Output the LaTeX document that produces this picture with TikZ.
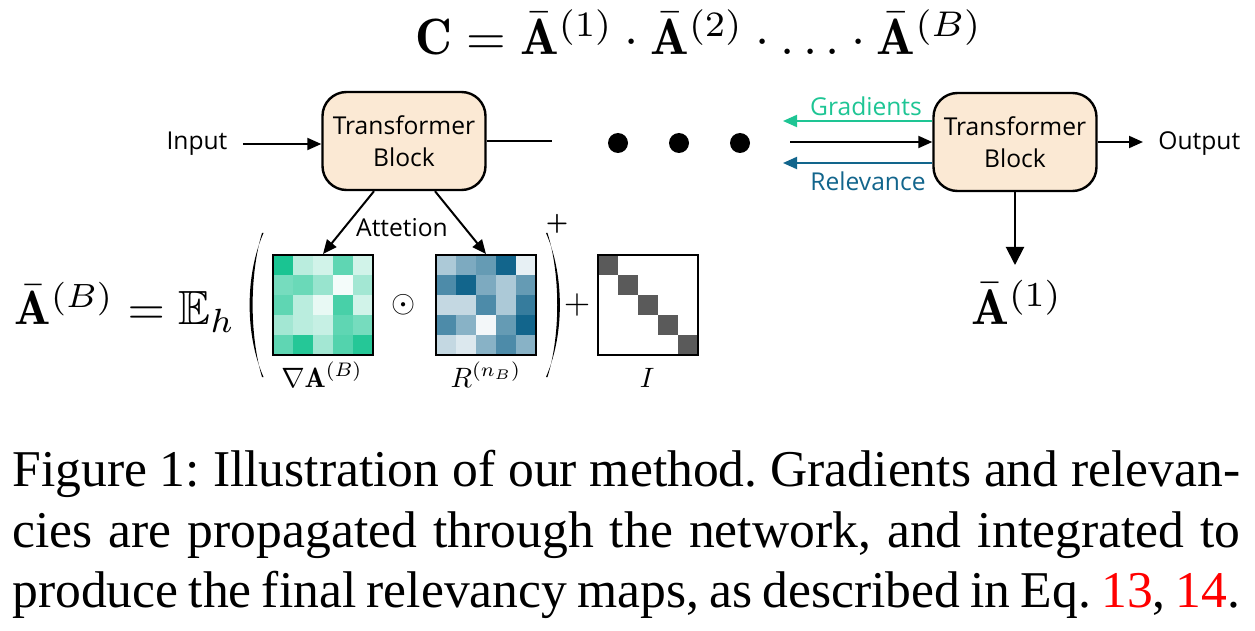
\documentclass[tikz,border=0pt]{standalone}
\usepackage{amsmath,amssymb}
\usepackage{fontspec}
\setsansfont{Open Sans}
\newfontfamily\capfont{Liberation Serif}
\usetikzlibrary{arrows.meta}
\definecolor{peach}{RGB}{251,233,212}
\definecolor{gcol}{RGB}{30,197,148}
\definecolor{bcol}{RGB}{18,101,140}
\definecolor{gmat}{RGB}{26,196,146}
\definecolor{bmat}{RGB}{18,101,140}
\definecolor{dgray}{RGB}{90,90,90}
\tikzset{
  lbl/.style={font=\sffamily\fontsize{12.3}{16}\selectfont},
  block/.style={lbl, draw, line width=1.2pt, rounded corners=12pt, fill=peach,
    minimum width=81.5pt, minimum height=49pt, align=center, inner sep=0pt},
  arr/.style={line width=1pt, -{Triangle[length=7pt,width=6pt]}},
  bigarr/.style={line width=1pt, -{Triangle[length=9pt,width=9pt]}},
  matbox/.style={draw, line width=1pt, minimum size=50pt, inner sep=0pt},
  dotc/.style={circle, fill=black, minimum size=10pt, inner sep=0pt},
  capline/.style={anchor=base west, inner sep=0pt, font=\capfont\fontsize{25.8}{30}\selectfont\frenchspacing},
}
\begin{document}
\begin{tikzpicture}[x=0.5pt,y=-0.5pt]
\useasboundingbox (0,0) rectangle (1255,631);

% top formula
\node[scale=2.55, anchor=base] (cform) at (699,55)
  {$\mathbf{C} = \bar{\mathbf{A}}^{(1)} \cdot \bar{\mathbf{A}}^{(2)} \cdot \ldots \cdot \bar{\mathbf{A}}^{(B)}$};

% blocks
\node[block] (b1) at (404,141) {Transformer\\Block};
\node[block] (b2) at (1015,142) {Transformer\\Block};

\node[lbl, inner sep=0pt] (inp) at (197,144) {Input};
\node[lbl, inner sep=0pt, anchor=west] (out) at (1158,144) {Output};

\draw[arr, shorten <=7.5pt] (inp.east) -- (inp.east -| b1.west);

% dots
\node[dotc] (d1) at (618,143) {};
\node[dotc] (d2) at (679,143) {};
\node[dotc] (d3) at (740,143) {};
\coordinate (b1end) at (552,141);
\draw[line width=1pt] (b1.east) -- (b1end);

% right arrows
\coordinate (gend) at (783,121);
\coordinate (rend) at (783,163);
\coordinate (mstart) at (790,142);
\draw[arr] (mstart) -- (b2.west);
\draw[arr, draw=gcol, fill=gcol] ([yshift=10.5pt]b2.west) -- (gend);
\draw[arr, draw=bcol, fill=bcol] ([yshift=-10.5pt]b2.west) -- (rend);
\node[lbl, text=gcol] (gl) at (866,106) {Gradients};
\node[lbl, text=bcol] (rl) at (868,181) {Relevance};

\draw[arr, shorten >=7.5pt] (b2.east) -- (b2.east -| out.west);

% down arrow
\coordinate (a1top) at (1015,265);
\draw[bigarr] (b2.south) -- (a1top);
\node[scale=2.5, anchor=base] (a1) at (1017,325) {$\bar{\mathbf{A}}^{(1)}$};

% left formula
\node[scale=2.4, anchor=base west, inner sep=0pt] (lform) at (14,325) {$\bar{\mathbf{A}}^{(B)} = \mathbb{E}_h$};

% parens
\fill (263.5,233) .. controls (245,275) and (245,335) .. (263.5,377)
  -- (262,377) .. controls (249.5,335) and (249.5,275) .. (262,233) -- cycle;
\fill (546,233) .. controls (564.5,275) and (564.5,335) .. (546,377)
  -- (547.5,377) .. controls (560.5,335) and (560.5,275) .. (547.5,233) -- cycle;
\node[scale=1.6] (supplus) at (557,224) {$\scriptstyle\boldsymbol{+}$};
\node[scale=1.7] (plus) at (577,305) {$+$};
\node[scale=1.55] (odot) at (404,305) {$\odot$};

% green matrix
\def\gvals{{1.0,0.3,0.2,0.7,0.2},{0.6,0.65,0.45,0.05,0.4},{0.7,0.3,0.1,0.8,0.2},{0.4,0.3,0.25,0.7,0.6},{0.7,0.95,0.4,0.75,0.95}}
\foreach \row [count=\i from 0] in \gvals {
  \foreach \v [count=\j from 0] in \row {
    \pgfmathsetmacro\pc{\v*100}
    \fill[gmat!\pc!white] (273+\j*20,255+\i*20) rectangle ++(20,20);
  }
}
\node[matbox] (gm) at (323,305) {};

% blue matrix
\def\bvals{{0.35,0.55,0.65,1.0,0.1},{0.75,1.0,0.55,0.35,0.65},{0.25,0.25,0.75,0.35,0.85},{0.75,0.5,0.05,0.65,1.0},{0.25,0.15,0.5,0.75,0.5}}
\foreach \row [count=\i from 0] in \bvals {
  \foreach \v [count=\j from 0] in \row {
    \pgfmathsetmacro\pc{\v*100}
    \fill[bmat!\pc!white] (436+\j*20,255+\i*20) rectangle ++(20,20);
  }
}
\node[matbox] (bm) at (486,305) {};

% identity
\foreach \k in {0,...,4} {
  \fill[dgray] (598+\k*20,255+\k*20) rectangle ++(20,20);
}
\node[matbox] (im) at (648,305) {};

% attention arrows
\draw[arr] ([xshift=-15pt]b1.south) -- (gm.north);
\draw[arr] ([xshift=15.5pt]b1.south) -- (bm.north);
\node[lbl] (att) at (402,228) {Attetion};

% matrix labels
\node[scale=1.4, anchor=base] (gml) at (322,387) {$\nabla\mathbf{A}^{(B)}$};
\node[scale=1.4, anchor=base] (bml) at (486,387) {$R^{(n_B)}$};
\node[scale=1.4, anchor=base] (iml) at (647,387) {$I$};

% caption
\node[capline] (cap1) at (12,486) {\makebox[614pt][s]{Figure 1: Illustration of our method. Gradients and relevan-}};
\node[capline] (cap2) at (12,547) {\makebox[614pt][s]{cies are propagated through the network, and integrated to}};
\node[capline] (cap3) at (12,607) {\makebox[614pt][s]{produce the final relevancy maps, as described in Eq. \textcolor{red}{13}, \textcolor{red}{14}.}};
\end{tikzpicture}
\end{document}
